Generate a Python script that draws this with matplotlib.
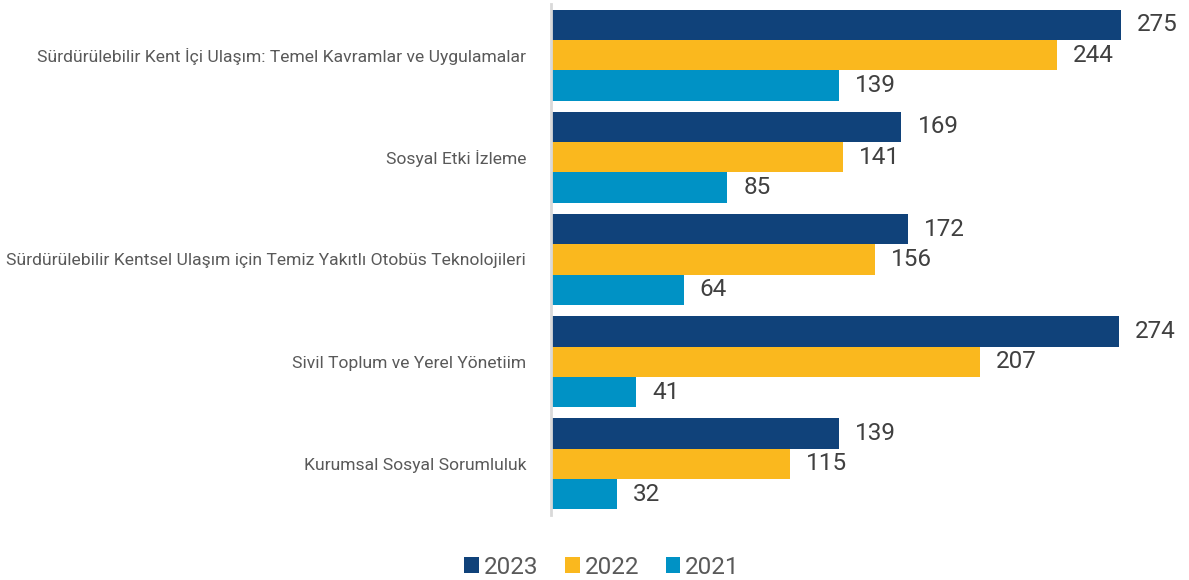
import matplotlib.pyplot as plt
import numpy as np

plt.rcParams['font.family'] = ['Roboto', 'DejaVu Sans']

categories = ['Sürdürülebilir Kent İçi Ulaşım: Temel Kavramlar ve Uygulamalar',
              'Sosyal Etki İzleme',
              'Sürdürülebilir Kentsel Ulaşım için Temiz Yakıtlı Otobüs Teknolojileri',
              'Sivil Toplum ve Yerel Yönetiim',
              'Kurumsal Sosyal Sorumluluk']
years = ['2023', '2022', '2021']
v2023 = [275, 169, 172, 274, 139]
v2022 = [244, 141, 156, 207, 115]
v2021 = [139, 85, 64, 41, 32]
colors = ['#10427A', '#FAB81E', '#0092C5']

fig = plt.figure(figsize=(11.89, 5.80), dpi=100)
ax = fig.add_axes([551 / 1189, 65 / 580, (1140 - 551) / 1189, 511 / 580])

y = np.arange(len(categories))
h = 0.297
for i, (vals, c, lab) in enumerate(zip([v2023, v2022, v2021], colors, years)):
    pos = y + (i - 1) * h
    ax.barh(pos, vals, height=h, color=c, label=lab)
    for yy, v in zip(pos, vals):
        ax.text(v + 7.7, yy, str(v), va='center', ha='left', fontsize=17.5,
                color='#404040', clip_on=False)

ax.set_ylim(4.5, -0.5)
ax.set_xlim(0, 284)
ax.set_yticks(y)
ax.set_yticklabels(categories, fontsize=12.6, color='#595959')
ax.tick_params(axis='y', length=0, pad=18)
ax.set_xticks([])
for s in ['top', 'right', 'bottom']:
    ax.spines[s].set_visible(False)
ax.spines['left'].set_color('#D9D9D9')
ax.spines['left'].set_linewidth(2)

handles, labels = ax.get_legend_handles_labels()
fig.legend(handles, labels, loc='center', bbox_to_anchor=(602 / 1189, 1 - 567 / 580),
           ncol=3, frameon=False, fontsize=17.5, handlelength=0.6, handleheight=0.6,
           handletextpad=0.2, columnspacing=1.1, labelcolor='#595959')

plt.savefig('out.png', dpi=100)
